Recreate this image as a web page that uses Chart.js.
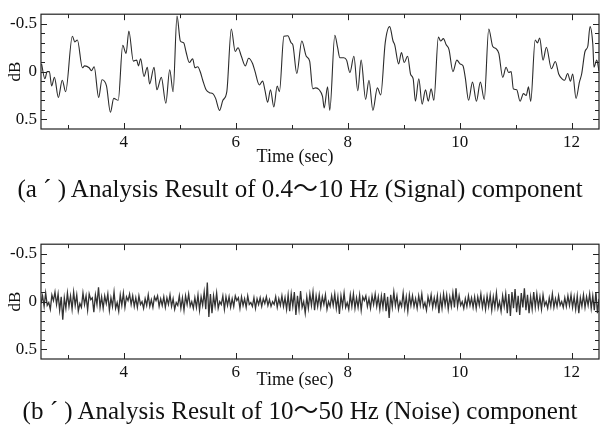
<!DOCTYPE html>
<html>
<head>
<meta charset="utf-8">
<script src="https://cdn.jsdelivr.net/npm/chart.js@4.4.1/dist/chart.umd.min.js"></script>
<style>
  html, body { margin: 0; padding: 0; background: #fff; }
  #wrap { position: relative; width: 600px; height: 426px; background: #fff; overflow: hidden; }
  .panel { position: absolute; left: 0; width: 600px; height: 150px; }
  .xlab, .cap {
    position: absolute; left: 0; width: 600px; text-align: center;
    font-family: "Liberation Serif", "Noto Sans CJK JP", serif; color: #111; white-space: nowrap;
  }
  .xlab { font-size: 18px; }
  .cap { font-size: 25px; }
</style>
</head>
<body>
<div id="wrap">
  <div class="panel" style="top:0"><canvas id="sigChart" width="600" height="150"></canvas></div>
  <div class="xlab" style="top:146px; left:-5px">Time (sec)</div>
  <div class="cap" style="top:168px">(a ´ ) Analysis Result of 0.4～10 Hz (Signal) component</div>
  <div class="panel" style="top:230px"><canvas id="noiseChart" width="600" height="150"></canvas></div>
  <div class="xlab" style="top:369px; left:-5px">Time (sec)</div>
  <div class="cap" style="top:390px">(b ´ ) Analysis Result of 10～50 Hz (Noise) component</div>
</div>
<script>
/* =========================
   DATA
========================= */
const xTicks = [4, 6, 8, 10, 12];
const xMinorTicks = [3, 5, 7, 9, 11];
const yTicks = [-0.5, 0, 0.5];
const yMinorTicks = [-0.4, -0.3, -0.2, -0.1, 0.1, 0.2, 0.3, 0.4];

// (a') 0.4-10 Hz signal
const sigTime = [
  2.53, 2.59, 2.63, 2.67, 2.71, 2.76, 2.83, 2.90, 2.96, 3.08, 3.125, 3.17,
  3.26, 3.30, 3.38, 3.42, 3.47, 3.55, 3.61, 3.69, 3.76, 3.82, 3.90, 3.98,
  4.04, 4.09, 4.17, 4.23, 4.26, 4.30, 4.36, 4.42, 4.46, 4.54, 4.59, 4.67,
  4.75, 4.82, 4.88, 4.95, 5.01, 5.07, 5.11, 5.17, 5.23, 5.27, 5.32, 5.37,
  5.41, 5.47, 5.53, 5.59, 5.64, 5.71, 5.77, 5.84, 5.92, 5.99, 6.04, 6.10,
  6.17, 6.23, 6.30, 6.34, 6.42, 6.48, 6.52, 6.57, 6.62, 6.68, 6.74, 6.78,
  6.86, 6.93, 6.99, 7.02, 7.09, 7.18, 7.26, 7.32, 7.375, 7.43, 7.49, 7.55,
  7.58, 7.64, 7.68, 7.77, 7.82, 7.86, 7.93, 7.98, 8.04, 8.11, 8.18, 8.24,
  8.32, 8.38, 8.45, 8.53, 8.59, 8.67, 8.75, 8.81, 8.84, 8.91, 8.96, 9.01,
  9.07, 9.125, 9.17, 9.21, 9.27, 9.33, 9.39, 9.44, 9.49, 9.54, 9.62, 9.66,
  9.71, 9.76, 9.81, 9.88, 9.95, 10.01, 10.06, 10.10, 10.16, 10.23, 10.30, 10.37,
  10.44, 10.52, 10.59, 10.65, 10.70, 10.77, 10.83, 10.875, 10.92, 10.96, 11.02, 11.08,
  11.14, 11.19, 11.23, 11.27, 11.35, 11.39, 11.43, 11.49, 11.55, 11.64, 11.71, 11.77,
  11.83, 11.875, 11.93, 11.98, 12.02, 12.08, 12.14, 12.18, 12.24, 12.29, 12.33, 12.38,
  12.40, 12.45, 12.49
];
const sigDb = [
  -0.08, 0.075, 0.0, 0.0, 0.15, 0.06, 0.27, 0.09, 0.21, -0.37, -0.31, -0.33,
  -0.04, -0.06, -0.04, -0.01, -0.05, 0.27, 0.085, 0.15, 0.425, 0.28, 0.30, -0.275,
  -0.19, -0.425, -0.11, -0.12, -0.06, -0.135, 0.05, -0.045, 0.13, -0.045, 0.19, 0.06,
  0.33, -0.02, 0.21, -0.58, -0.32, -0.30, -0.21, -0.095, -0.135, -0.04, -0.05, 0.01,
  0.09, 0.19, 0.22, 0.23, 0.28, 0.405, 0.30, 0.21, -0.446, -0.21, -0.25, -0.16,
  -0.06, -0.14, -0.085, -0.01, 0.14, 0.10, 0.19, 0.32, 0.19, 0.37, 0.15, 0.21,
  -0.37, -0.375, -0.30, -0.28, 0.02, -0.32, -0.16, -0.11, 0.18, 0.17, 0.19, 0.26,
  0.38, 0.16, 0.405, -0.38, -0.25, -0.145, -0.145, -0.12, 0.01, -0.16, 0.20, -0.12,
  0.29, 0.09, 0.405, 0.17, 0.245, -0.30, -0.47, -0.32, -0.28, -0.08, -0.20, -0.095,
  -0.16, 0.03, 0.075, 0.31, 0.075, 0.34, 0.19, 0.31, 0.18, 0.30, -0.36, -0.32,
  -0.345, -0.28, -0.23, 0.0, -0.12, -0.08, -0.06, 0.06, 0.30, 0.11, 0.31, 0.11,
  0.29, -0.446, -0.265, -0.24, -0.19, 0.06, -0.045, 0.01, 0.0, 0.18, 0.19, 0.31,
  0.23, 0.25, 0.16, 0.31, -0.33, -0.30, -0.35, -0.12, -0.255, -0.03, -0.105, 0.025,
  0.075, 0.09, 0.02, 0.10, 0.025, 0.28, 0.11, 0.025, -0.21, -0.265, -0.47, -0.28,
  -0.045, -0.12, -0.005
];

// (b') 10-50 Hz noise, sampled evenly from 2.52 s to 12.49 s
const noiseStart = 2.52;
const noiseEnd = 12.49;
const noiseDb = [
  0.02,-0.06,0.05,-0.09,0.04,0.01,0.08,-0.07,-0.01,-0.10,0.03,-0.08,0.09,-0.05,0.19,-0.04,0.07,-0.09,0.05,-0.06,
  0.08,-0.10,0.04,-0.07,0.10,0.02,0.06,-0.09,0.03,-0.06,0.09,-0.08,-0.02,-0.04,0.11,-0.07,0.03,-0.15,0.06,-0.05,
  0.07,-0.06,0.02,-0.08,0.09,-0.04,0.05,-0.10,0.07,0.01,0.10,-0.07,0.04,-0.09,0.06,-0.05,-0.01,-0.08,0.03,-0.06,
  0.05,-0.04,0.06,-0.06,0.03,0.00,0.07,-0.03,0.04,-0.07,0.05,-0.02,0.06,-0.05,-0.01,-0.06,0.05,-0.03,0.04,-0.05,
  0.06,-0.04,0.03,-0.07,0.05,-0.03,0.08,0.01,0.04,-0.06,0.07,-0.04,0.09,-0.06,0.03,-0.08,0.05,0.00,0.07,-0.04,
  0.06,-0.07,0.09,-0.05,0.04,-0.10,0.08,-0.20,0.16,-0.08,0.12,-0.06,0.05,-0.09,0.07,0.00,0.03,-0.06,0.08,-0.05,
  0.04,-0.05,0.06,-0.03,0.05,-0.06,-0.01,-0.04,0.07,-0.05,0.04,-0.03,0.06,-0.06,0.03,0.01,0.05,-0.04,0.07,-0.03,
  0.03,-0.04,0.05,-0.03,0.02,-0.05,0.04,-0.02,0.05,0.00,0.03,-0.05,0.06,-0.03,0.04,-0.06,0.05,-0.04,0.08,-0.07,
  0.10,-0.08,0.05,-0.10,0.14,-0.06,0.08,-0.11,0.06,0.00,0.12,-0.05,0.07,-0.08,0.04,-0.10,0.09,-0.06,0.05,-0.07,
  0.06,-0.05,0.03,-0.07,0.08,0.00,0.05,-0.06,0.04,-0.08,0.07,-0.05,0.13,-0.06,0.05,-0.09,0.06,0.01,0.08,-0.07,
  0.05,-0.08,0.07,-0.04,0.06,-0.07,0.09,-0.05,-0.01,-0.06,0.05,-0.03,0.07,-0.06,0.03,-0.08,0.05,-0.05,0.08,-0.06,
  0.06,-0.09,0.10,-0.05,0.17,-0.07,0.06,-0.10,0.04,-0.06,0.08,0.00,0.05,-0.09,0.07,-0.05,0.10,-0.07,0.04,-0.06,
  0.05,-0.03,0.07,-0.06,0.04,-0.08,0.06,0.01,0.09,-0.05,0.03,-0.07,0.06,-0.04,0.05,-0.06,0.12,-0.05,0.07,-0.08,
  0.04,-0.07,0.08,-0.05,0.05,-0.09,0.06,-0.14,0.05,-0.06,0.04,0.00,0.07,-0.03,0.05,-0.06,0.04,-0.04,0.06,-0.05,
  0.07,-0.05,0.04,-0.08,0.06,-0.04,0.08,-0.06,0.05,-0.07,0.09,-0.05,0.06,-0.09,0.07,0.00,0.10,-0.06,0.05,-0.08,
  0.12,-0.08,0.15,-0.10,0.07,-0.13,0.11,-0.06,0.14,-0.09,0.06,-0.14,0.09,-0.07,0.12,-0.05,0.08,-0.10,0.06,-0.08,
  0.06,-0.05,0.08,-0.07,0.04,0.00,0.07,-0.04,0.05,-0.08,0.06,-0.03,0.05,-0.06,0.04,0.00,0.06,-0.04,0.05,-0.06,
  0.04,-0.07,0.06,-0.05,0.08,-0.06,0.12,-0.04,0.05,-0.07,0.06,-0.05,0.04,-0.08,0.07,-0.06,0.09,-0.10,0.12,-0.03
];

/* =========================
   HELPERS
========================= */
const SERIF = '"Liberation Serif", "Times New Roman", serif';
const INK = "#222";

// frame + inward ticks on all four sides
const frameTicks = {
  id: "frameTicks",
  afterDatasetsDraw(chart) {
    const { ctx, chartArea: a, scales: { x, y } } = chart;
    ctx.save();
    ctx.strokeStyle = INK;
    ctx.lineWidth = 1.2;
    ctx.strokeRect(a.left, a.top, a.right - a.left, a.bottom - a.top);
    ctx.beginPath();
    const xt = (v, len) => {
      const px = Math.round(x.getPixelForValue(v)) + 0.5;
      ctx.moveTo(px, a.bottom); ctx.lineTo(px, a.bottom - len);
      ctx.moveTo(px, a.top); ctx.lineTo(px, a.top + len);
    };
    const yt = (v, len) => {
      const py = Math.round(y.getPixelForValue(v)) + 0.5;
      ctx.moveTo(a.left, py); ctx.lineTo(a.left + len, py);
      ctx.moveTo(a.right, py); ctx.lineTo(a.right - len, py);
    };
    xTicks.forEach(v => xt(v, 6));
    xMinorTicks.forEach(v => xt(v, 4));
    yTicks.forEach(v => yt(v, 6));
    yMinorTicks.forEach(v => yt(v, 4));
    ctx.lineWidth = 1;
    ctx.stroke();
    ctx.restore();
  }
};

function makeScales() {
  return {
    x: {
      type: "linear",
      min: 2.52,
      max: 12.49,
      grid: { display: false, drawTicks: false },
      border: { display: false },
      afterBuildTicks: s => { s.ticks = xTicks.map(v => ({ value: v })); },
      afterFit: s => { s.height = 21; },
      ticks: { autoSkip: false, maxRotation: 0, padding: 3, color: "#111", font: { family: SERIF, size: 17 } }
    },
    y: {
      type: "linear",
      min: -0.6,
      max: 0.6,
      reverse: true,
      grid: { display: false, drawTicks: false },
      border: { display: false },
      afterBuildTicks: s => { s.ticks = yTicks.map(v => ({ value: v })); },
      afterFit: s => { s.width = 41; },
      ticks: { padding: 4, color: "#111", font: { family: SERIF, size: 17 }, callback: v => String(v) },
      title: { display: true, text: "dB", color: "#111", font: { family: SERIF, size: 17 }, padding: { top: 5, bottom: 0 } }
    }
  };
}

function baseOptions() {
  return {
    responsive: false,
    animation: false,
    events: [],
    layout: { padding: { top: 12, right: 1, left: 0, bottom: 0 } },
    plugins: { legend: { display: false }, tooltip: { enabled: false } },
    scales: makeScales()
  };
}

/* =========================
   (a') SIGNAL
========================= */
new Chart(document.getElementById("sigChart"), {
  type: "line",
  data: {
    datasets: [{
      data: sigTime.map((t, i) => ({ x: t, y: sigDb[i] })),
      borderColor: "#2b2b2b",
      borderWidth: 1.1,
      pointRadius: 0,
      cubicInterpolationMode: "monotone",
      fill: false
    }]
  },
  options: baseOptions(),
  plugins: [frameTicks]
});

/* =========================
   (b') NOISE
========================= */
const noiseStep = (noiseEnd - noiseStart) / (noiseDb.length - 1);
new Chart(document.getElementById("noiseChart"), {
  type: "line",
  data: {
    datasets: [{
      data: noiseDb.map((v, i) => ({ x: noiseStart + i * noiseStep, y: v })),
      borderColor: "#333",
      borderWidth: 1.3,
      pointRadius: 0,
      tension: 0,
      fill: false
    }]
  },
  options: baseOptions(),
  plugins: [frameTicks]
});
</script>
</body>
</html>
